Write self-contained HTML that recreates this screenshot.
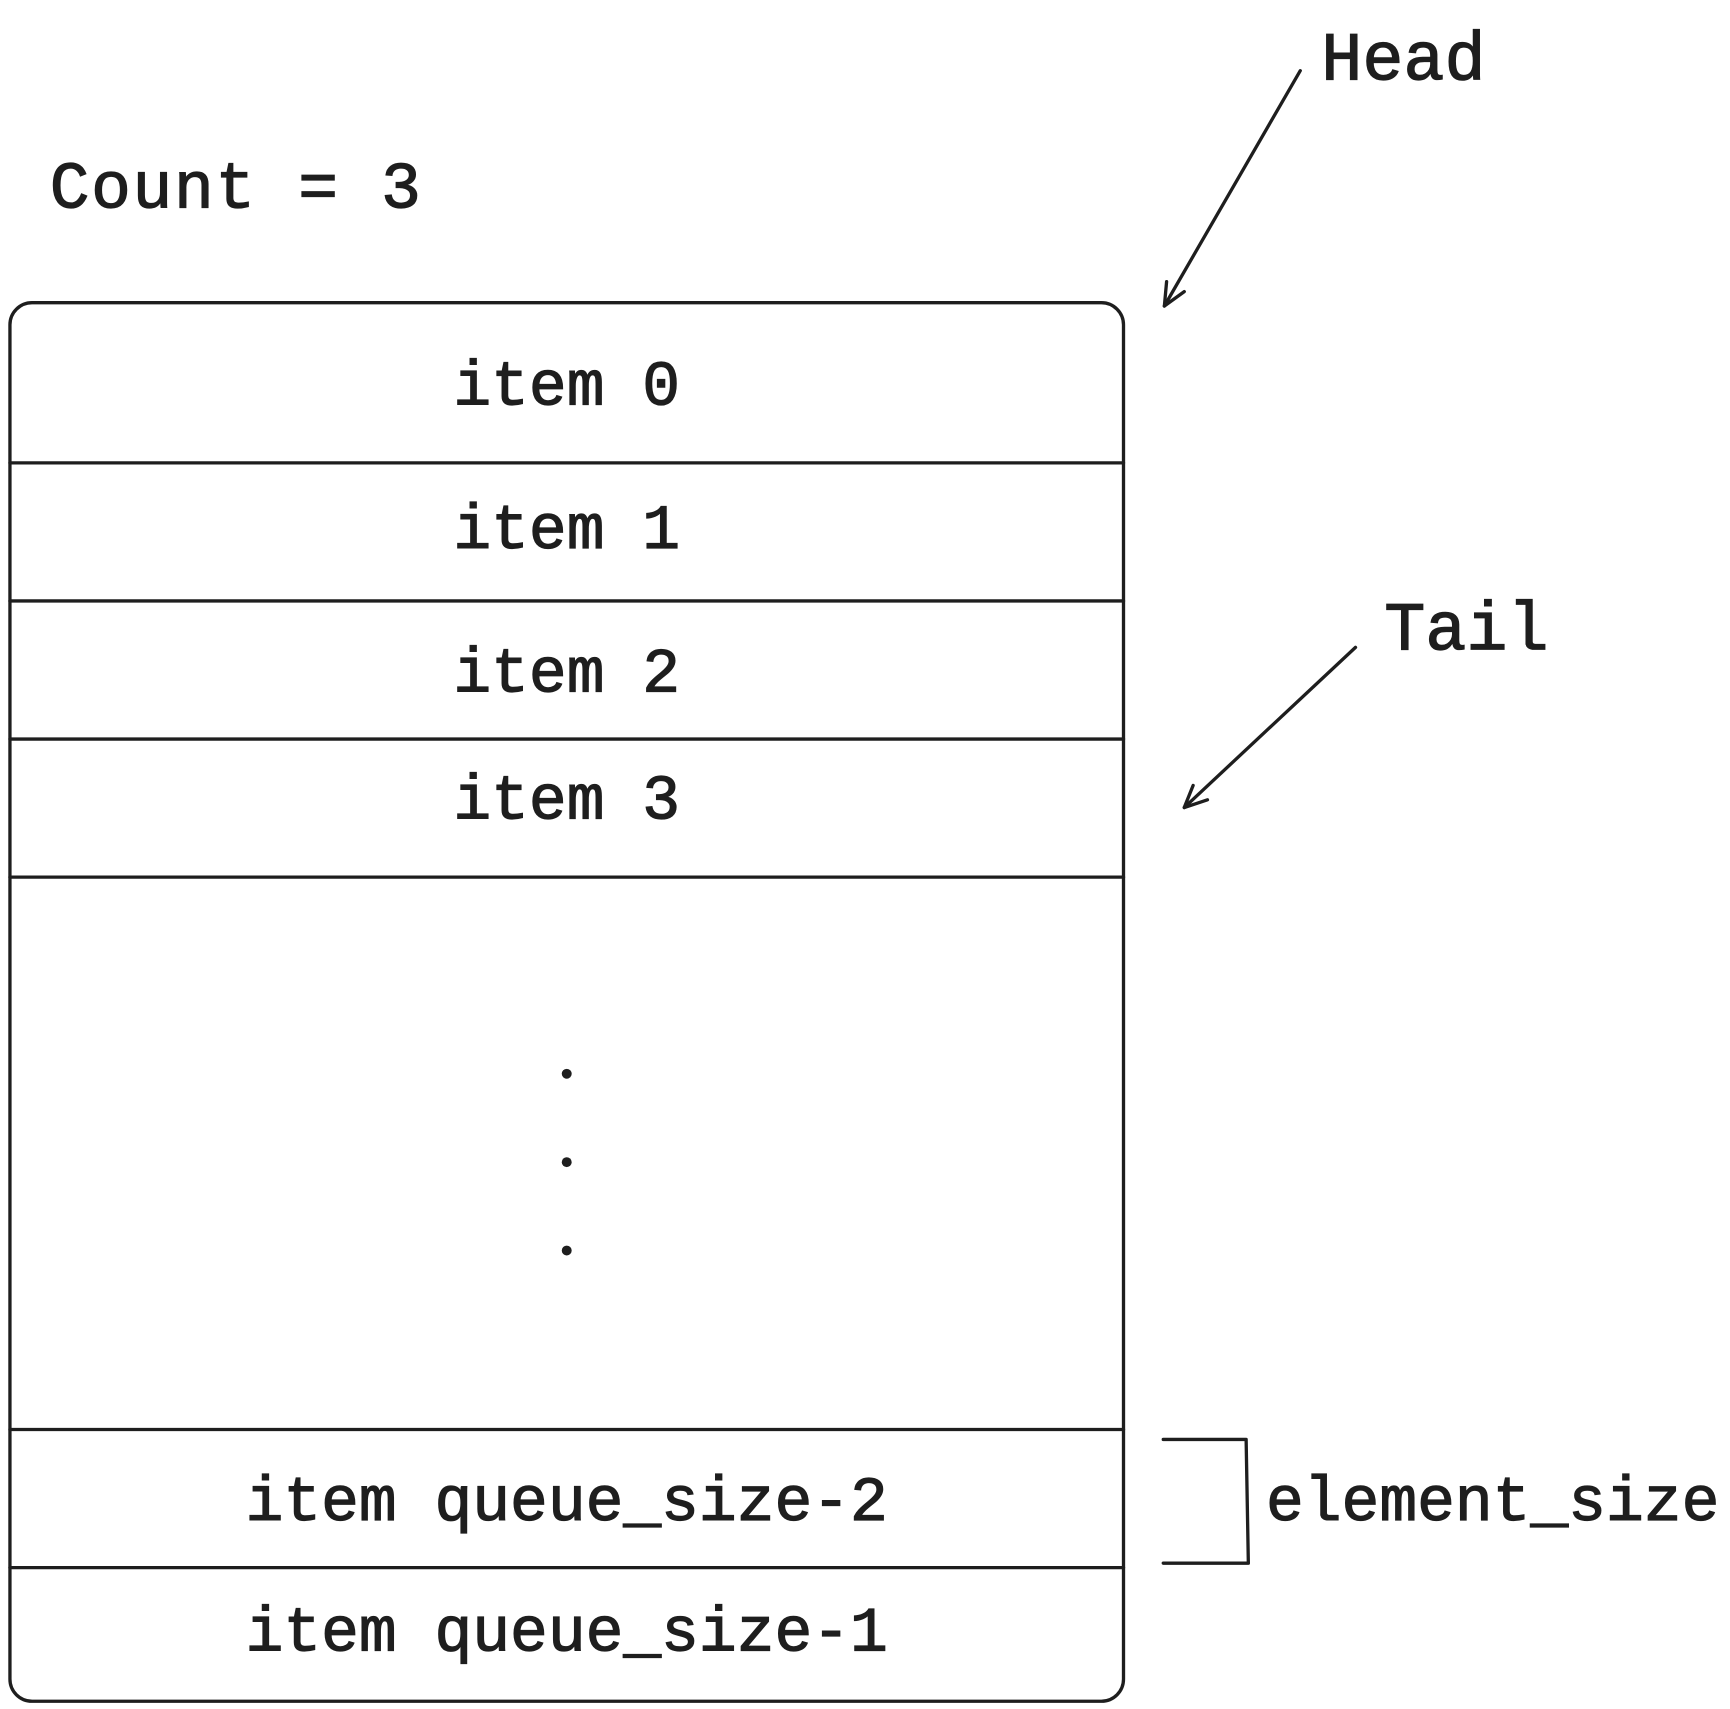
<!DOCTYPE html>
<html><head><meta charset="utf-8"><style>
html,body{margin:0;padding:0;background:#fff;}
svg{display:block;}
text{font-family:"Liberation Mono",monospace;fill:#1e1e1e;stroke:#1e1e1e;stroke-width:1.1;}
</style></head><body>
<svg width="1730" height="1709" viewBox="0 0 1566 1547" preserveAspectRatio="none" xmlns="http://www.w3.org/2000/svg">
<g stroke="#1e1e1e" stroke-width="3" fill="none" stroke-linecap="round" stroke-linejoin="round">
<rect x="9" y="274" width="1008" height="1266" rx="20" ry="20"/>
<line x1="9" y1="419" x2="1017" y2="419"/>
<line x1="9" y1="544" x2="1017" y2="544"/>
<line x1="9" y1="669" x2="1017" y2="669"/>
<line x1="9" y1="794" x2="1017" y2="794"/>
<line x1="9" y1="1294" x2="1017" y2="1294"/>
<line x1="9" y1="1419" x2="1017" y2="1419"/>
<path d="M1177 64 L1054 277"/>
<path d="M1054 277 L1056 255 M1054 277 L1072 264"/>
<path d="M1227 586 L1072 731"/>
<path d="M1072 731 L1080 711 M1072 731 L1093 724"/>
<path d="M1053 1303 L1128 1303 L1130 1415 L1053 1415"/>
</g>
<g font-size="57" text-anchor="middle">
<text x="513" y="366">item 0</text>
<text x="513" y="496">item 1</text>
<text x="513" y="626">item 2</text>
<text x="513" y="741">item 3</text>
<text x="513" y="1376">item queue_size-2</text>
<text x="513" y="1494">item queue_size-1</text>
</g>
<g fill="#1e1e1e">
<circle cx="513" cy="972" r="4.5"/>
<circle cx="513" cy="1052" r="4.5"/>
<circle cx="513" cy="1132" r="4.5"/>
</g>
<text x="45" y="188" font-size="60" letter-spacing="1.5">Count = 3</text>
<text x="1196" y="72" font-size="62">Head</text>
<text x="1253" y="588" font-size="62">Tail</text>
<text x="1146" y="1376" font-size="57">element_size</text>
</svg>
</body></html>
